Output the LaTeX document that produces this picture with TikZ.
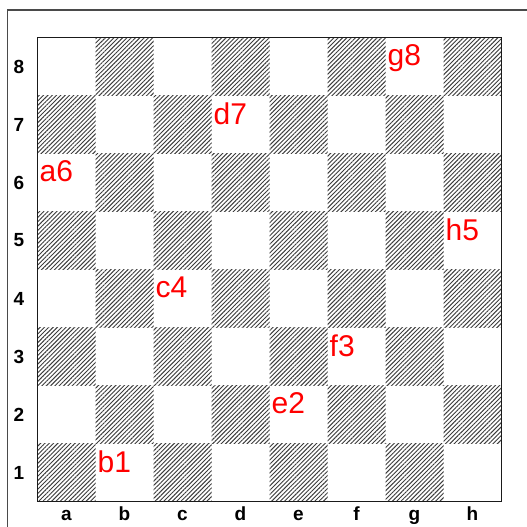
\documentclass[tikz,border=0pt]{standalone}
\usepackage{fontspec}
\setmainfont{Liberation Sans}
\usepackage{xcolor}
\usetikzlibrary{patterns.meta,positioning}
\definecolor{framegray}{HTML}{4A4A4A}
\definecolor{boardink}{HTML}{1A1A1A}
\definecolor{markred}{HTML}{FF0000}
\tikzset{
  lightsq/.style={minimum size=58pt,inner sep=0pt,outer sep=0pt},
  sqtone0/.style={pattern={Lines[angle=45,distance=3.05pt,line width=0.95pt]},
                  pattern color=boardink!85},
  sqtone1/.style={},
  coordlab/.style={font=\fontsize{19}{19}\selectfont\bfseries,inner sep=0pt},
  fieldlab/.style={font=\fontsize{30}{30}\selectfont,text=markred,
                   inner sep=0pt,anchor=north west}
}

\begin{document}
\begin{tikzpicture}[x=1pt,y=-1pt]
  \useasboundingbox (0,0) rectangle (527,527);
  % outer frame
  \draw[framegray,line width=1.5pt] (527,10) -- (7.5,10) -- (7.5,527);
  % the squares, a1 dark
  \foreach \f [count=\i] in {a,b,c,d,e,f,g,h} {
    \foreach \r in {1,...,8} {
      \pgfmathtruncatemacro\odd{mod(\i+\r,2)}
      \node[lightsq,sqtone\odd] (\f\r) at ({37.5+58*\i-29},{501.5-58*\r+29}) {};
    }
  }
  \draw[boardink,line width=1.5pt] (a8.north west) rectangle (h1.south east);
  % ranks and files
  \foreach \r in {1,...,8} {
    \node[coordlab,left=13pt of a\r.west] (rank\r) {\r};
  }
  \foreach \f in {a,b,c,d,e,f,g,h} {
    \node[coordlab,anchor=base] (file\f) at (\f1.center |- 0,520) {\f};
  }
  % marked squares
  \foreach \s in {g8,d7,a6,h5,c4,f3,e2,b1} {
    \node[fieldlab] (lab\s) at ([xshift=2pt,yshift=-7pt]\s.north west) {\s};
  }
\end{tikzpicture}
\end{document}
